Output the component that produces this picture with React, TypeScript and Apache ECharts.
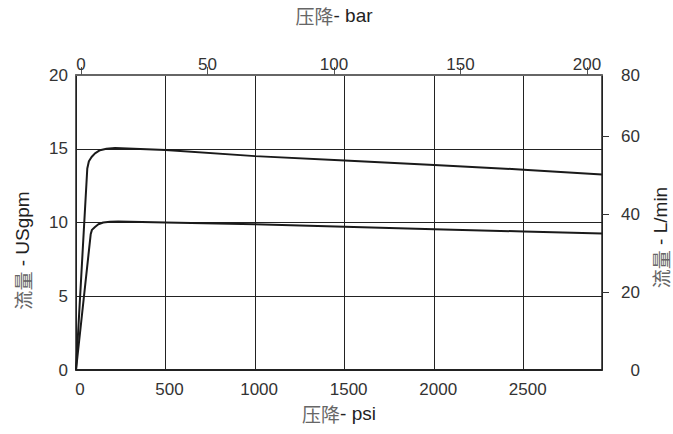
import React, { useEffect, useRef } from "react";
import * as echarts from "echarts";

// ---- data ----
const PSI_MAX = 2937; // right edge of plot, psi
const GPM_MAX = 20;
const LPM_PER_GPM = 3.785;
const LPM_MAX = GPM_MAX * LPM_PER_GPM;

const psiLabelValues = [0, 500, 1000, 1500, 2000, 2500];
const barTickValues = [0, 50, 100, 150, 200];
const lpmTickMin = 20;
const lpmTickMax = 60;
const lpmLabelText = ["0", "20", "40", "60", "80"];
const lpmLabelValues = [0, 20, 40, 60, LPM_MAX];

// upper curve: [psi, USgpm]
const upperCurve: [number, number][] = [
  [0, 0], [63, 13.66], [72, 14.15], [87, 14.44], [106, 14.69], [134, 14.9],
  [170, 15.0], [218, 15.05], [500, 14.92], [1000, 14.5], [1500, 14.2],
  [2000, 13.9], [2500, 13.58], [2937, 13.25],
];
// lower curve: [psi, USgpm]
const lowerCurve: [number, number][] = [
  [0, 0], [82, 9.2], [89, 9.5], [106, 9.7], [125, 9.88], [152, 10.0],
  [190, 10.05], [236, 10.07], [500, 10.0], [1000, 9.88], [1500, 9.72],
  [2000, 9.55], [2500, 9.39], [2937, 9.25],
];

// ---- layout ----
const W = 673;
const H = 434;
const G_LEFT = 76;
const G_RIGHT = 71;
const G_TOP = 75;
const G_BOTTOM = 64;
const PLOT_H = H - G_TOP - G_BOTTOM;
// the bar scale as drawn: 0 bar at x=81, 200 bar at x=587
const BAR_LEFT = 81;
const BAR_RIGHT = W - 587;

const LATIN = "'Liberation Sans', Arial, sans-serif";
const CJK = "'Noto Sans CJK SC', sans-serif";

const titleRich = {
  c: { fontFamily: CJK, fontSize: 19, color: "#666" },
  l: { fontFamily: LATIN, fontSize: 19, color: "#222" },
};

export default function App() {
  const ref = useRef<HTMLDivElement>(null);
  useEffect(() => {
    if (!ref.current) return;
    const chart = echarts.init(ref.current, undefined, { renderer: "svg" });
    const labelStyle = { fontFamily: LATIN, fontSize: 17, color: "#333" };
    chart.setOption({
      animation: false,
      backgroundColor: "#fff",
      grid: [
        { left: G_LEFT, right: G_RIGHT, top: G_TOP, bottom: G_BOTTOM, containLabel: false, outerBoundsMode: "none" },
        { left: BAR_LEFT, right: BAR_RIGHT, top: G_TOP, bottom: G_BOTTOM, containLabel: false, outerBoundsMode: "none" },
        {
          left: G_LEFT,
          right: G_RIGHT,
          top: G_TOP + PLOT_H * (1 - lpmTickMax / LPM_MAX),
          bottom: G_BOTTOM + PLOT_H * (lpmTickMin / LPM_MAX),
          containLabel: false,
          outerBoundsMode: "none",
        },
      ],
      xAxis: [
        {
          gridIndex: 0,
          type: "value",
          position: "bottom",
          min: 0,
          max: PSI_MAX,
          interval: 500,
          name: "{c|压降}{l|- psi}",
          nameLocation: "middle",
          nameGap: 34,
          nameTextStyle: { rich: titleRich },
          axisLine: { show: true, onZero: false, lineStyle: { color: "#222", width: 2 } },
          axisTick: { show: false },
          axisLabel: {
            ...labelStyle,
            margin: 11,
            padding: [0, 0, 0, 8],
            customValues: psiLabelValues,
            formatter: (v: number) => String(v),
          },
          splitLine: { show: true, lineStyle: { color: "#222", width: 1 } },
        },
        {
          gridIndex: 0,
          type: "value",
          position: "top",
          min: 0,
          max: PSI_MAX,
          axisLine: { show: true, onZero: false, lineStyle: { color: "#666", width: 2 } },
          axisTick: { show: false },
          axisLabel: { show: false },
          splitLine: { show: false },
        },
        {
          gridIndex: 1,
          type: "value",
          position: "top",
          min: barTickValues[0],
          max: barTickValues[barTickValues.length - 1],
          interval: 50,
          name: "{c|压降}{l|- bar}",
          nameLocation: "middle",
          nameGap: 50,
          nameTextStyle: { rich: titleRich },
          axisLine: { show: false, onZero: false },
          axisTick: {
            show: true,
            inside: false,
            length: 8,
            lineStyle: { color: "#555", width: 1 },
          },
          axisLabel: { ...labelStyle, margin: 2, formatter: (v: number) => String(v) },
          splitLine: { show: false },
        },
        {
          gridIndex: 2,
          type: "value",
          show: false,
          min: 0,
          max: PSI_MAX,
          axisLine: { onZero: false },
        },
      ],
      yAxis: [
        {
          gridIndex: 0,
          type: "value",
          position: "left",
          min: 0,
          max: GPM_MAX,
          interval: 5,
          name: "{c|流量}{l| - USgpm}",
          nameLocation: "middle",
          nameRotate: 90,
          nameGap: 44,
          nameTextStyle: { rich: titleRich, padding: [0, 56, 0, 0] },
          axisLine: { show: true, onZero: false, lineStyle: { color: "#222", width: 1.5 } },
          axisTick: { show: false },
          axisLabel: { ...labelStyle, margin: 8 },
          splitLine: { show: true, lineStyle: { color: "#222", width: 1 } },
        },
        {
          gridIndex: 0,
          type: "value",
          position: "right",
          min: 0,
          max: LPM_MAX,
          name: "{c|流量}{l| - L/min}",
          nameLocation: "middle",
          nameRotate: 90,
          nameGap: 46,
          nameTextStyle: { rich: titleRich, padding: [0, 30, 0, 0] },
          axisLine: { show: true, onZero: false, lineStyle: { color: "#222", width: 1.5 } },
          axisTick: { show: false },
          axisLabel: {
            ...labelStyle,
            margin: 38,
            align: "right",
            customValues: lpmLabelValues,
            formatter: (v: number) => {
              let best = 0;
              lpmLabelValues.forEach((lv, i) => {
                if (Math.abs(lv - v) < Math.abs(lpmLabelValues[best] - v)) best = i;
              });
              return lpmLabelText[best];
            },
          },
          splitLine: { show: false },
        },
        {
          gridIndex: 1,
          type: "value",
          show: false,
          min: 0,
          max: GPM_MAX,
          axisLine: { onZero: false },
        },
        {
          gridIndex: 2,
          type: "value",
          position: "right",
          min: lpmTickMin,
          max: lpmTickMax,
          interval: 20,
          axisLine: { show: false, onZero: false },
          axisTick: { show: true, inside: false, length: 7, lineStyle: { color: "#333", width: 1 } },
          axisLabel: { show: false },
          splitLine: { show: false },
        },
      ],
      series: [
        {
          type: "line",
          xAxisIndex: 0,
          yAxisIndex: 0,
          data: upperCurve,
          showSymbol: false,
          lineStyle: { color: "#1a1a1a", width: 2 },
        },
        {
          type: "line",
          xAxisIndex: 0,
          yAxisIndex: 0,
          data: lowerCurve,
          showSymbol: false,
          lineStyle: { color: "#1a1a1a", width: 2 },
        },
      ],
    });
    return () => chart.dispose();
  }, []);
  return (
    <div
      ref={ref}
      style={{ position: "fixed", left: 0, top: 0, width: W, height: H, background: "#fff" }}
    />
  );
}
